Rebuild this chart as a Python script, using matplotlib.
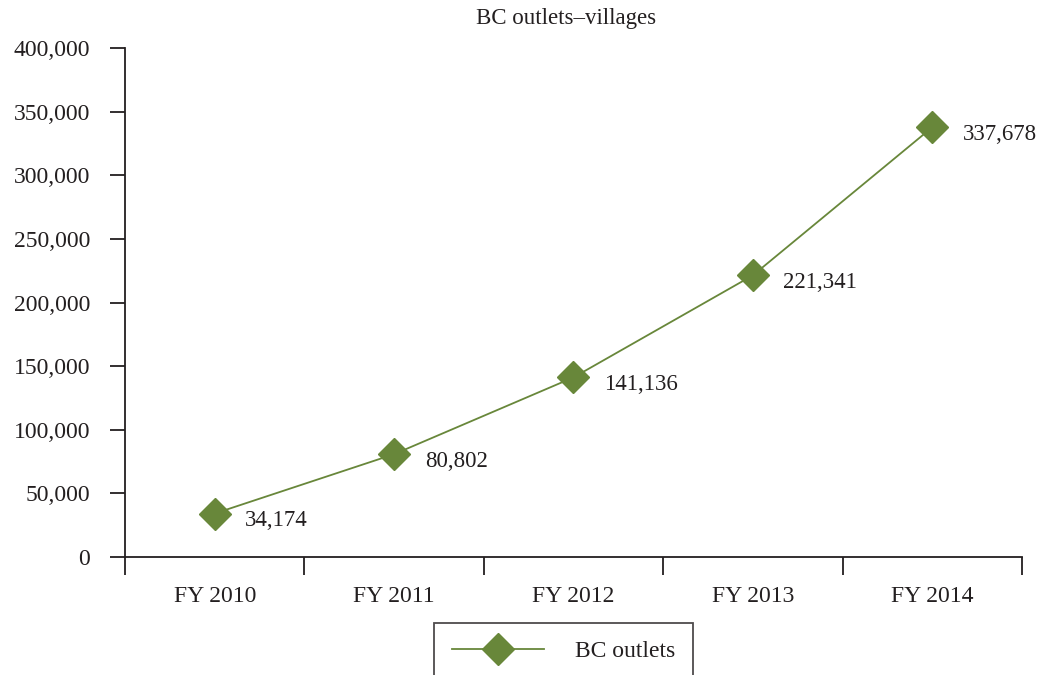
import matplotlib.pyplot as plt
from matplotlib.ticker import FuncFormatter

plt.rcParams['font.family'] = ['Liberation Serif', 'DejaVu Serif']

# data
years = ['FY 2010', 'FY 2011', 'FY 2012', 'FY 2013', 'FY 2014']
bc_outlets = [34174, 80802, 141136, 221341, 337678]

green = '#68873A'
ink = '#231F20'

fig = plt.figure(figsize=(10.39, 6.75), dpi=100)
ax = fig.add_axes([0.1203, 0.1748, 0.8633, 0.7541])

x = list(range(len(years)))
line, = ax.plot(x, bc_outlets, color=green, lw=1.3, marker='D', markersize=16,
                markeredgecolor=green, label='BC outlets')

for xi, v in zip(x, bc_outlets):
    ax.annotate(f'{v:,}', (xi, v), xytext=(22, -5), textcoords='offset points',
                ha='left', va='center', fontsize=16.5, color=ink)

ax.set_xlim(-0.5, len(years) - 0.5)
ax.set_ylim(0, 400000)
ax.set_yticks(range(0, 400001, 50000))
ax.yaxis.set_major_formatter(FuncFormatter(lambda v, p: f'{int(v):,}'))

# x ticks at category boundaries, labels centred
ax.set_xticks([i - 0.5 for i in range(len(years) + 1)])
ax.set_xticklabels([])
ax.set_xticks(x, minor=True)
ax.set_xticklabels(years, minor=True)
ax.tick_params(axis='x', which='major', length=13, width=1.3, color=ink, direction='out')
ax.tick_params(axis='x', which='minor', length=0, pad=21, labelsize=17, labelcolor=ink)
ax.tick_params(axis='y', length=11, width=1.3, color=ink, labelsize=17,
               labelcolor=ink, pad=14)

for s in ['top', 'right']:
    ax.spines[s].set_visible(False)
for s in ['left', 'bottom']:
    ax.spines[s].set_color(ink)
    ax.spines[s].set_linewidth(1.3)

fig.text(0.545, 0.972, 'BC outlets\u2013villages', ha='center', va='center',
         fontsize=16.5, color=ink)

leg = fig.legend(handles=[line], loc='upper center', bbox_to_anchor=(0.5423, 0.077),
                 frameon=True, fancybox=False, fontsize=17, handlelength=3.9,
                 borderpad=0.75, handletextpad=1.3, borderaxespad=0, markerscale=1.0)
leg.get_frame().set_edgecolor(ink)
leg.get_frame().set_linewidth(1.3)
for t in leg.get_texts():
    t.set_color(ink)

fig.savefig('out.png', dpi=100)
